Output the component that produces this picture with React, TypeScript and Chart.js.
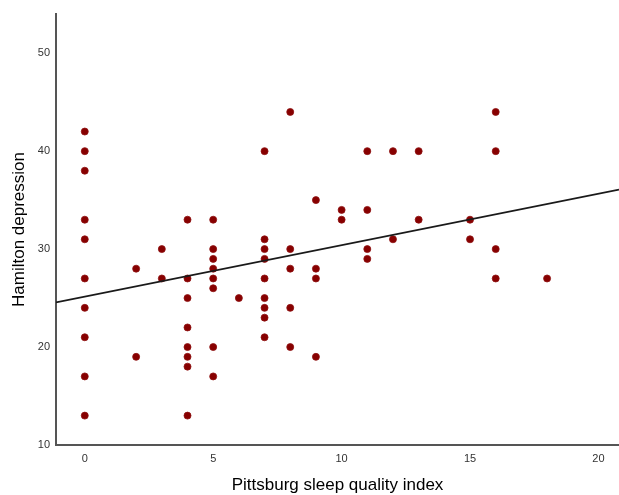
import React, { useEffect, useRef } from "react";
import { Chart, registerables } from "chart.js";

Chart.register(...registerables);

// Pittsburg sleep quality index (x) and Hamilton depression (y) pairs
const psqi: number[] = [
  0, 0, 0, 0, 0, 0, 0, 0, 0, 0,
  2, 2,
  3, 3,
  4, 4, 4, 4, 4, 4, 4, 4,
  5, 5, 5, 5, 5, 5, 5, 5,
  6,
  7, 7, 7, 7, 7, 7, 7, 7, 7,
  8, 8, 8, 8, 8,
  9, 9, 9, 9,
  10, 10,
  11, 11, 11, 11,
  12, 12,
  13, 13,
  15, 15,
  16, 16, 16, 16,
  18,
];
const hamilton: number[] = [
  42, 40, 38, 33, 31, 27, 24, 21, 17, 13,
  28, 19,
  30, 27,
  33, 27, 25, 22, 20, 19, 18, 13,
  33, 30, 29, 28, 27, 26, 20, 17,
  25,
  40, 31, 30, 29, 27, 25, 24, 23, 21,
  44, 30, 28, 24, 20,
  35, 28, 27, 19,
  34, 33,
  40, 34, 30, 29,
  40, 31,
  40, 33,
  33, 31,
  44, 40, 30, 27,
  27,
];

// Linear fit line
const fitIntercept = 25.15;
const fitSlope = 0.525;

const xMin = -1.12;
const xMax = 20.8;
const yMin = 10;
const yMax = 54;
const xTicks: number[] = [0, 5, 10, 15, 20];
const yTicks: number[] = [10, 20, 30, 40, 50];

const xTitle = "Pittsburg sleep quality index";
const yTitle = "Hamilton depression";

export default function App() {
  const ref = useRef<HTMLCanvasElement | null>(null);

  useEffect(() => {
    if (!ref.current) return;
    const points = psqi.map((x, i) => ({ x, y: hamilton[i] }));
    const fit = [xMin, xMax].map((x) => ({ x, y: fitIntercept + fitSlope * x }));
    const chart = new Chart(ref.current, {
      type: "scatter",
      data: {
        datasets: [
          {
            type: "line",
            data: fit,
            borderColor: "#1a1a1a",
            borderWidth: 1.6,
            pointRadius: 0,
            fill: false,
            order: 0,
          } as any,
          {
            data: points,
            backgroundColor: "#870000",
            borderColor: "#8e1010",
            borderWidth: 0.8,
            pointRadius: 3.5,
            order: 1,
          },
        ],
      },
      options: {
        responsive: false,
        animation: false,
        layout: { autoPadding: false, padding: { top: 14, right: 0, bottom: 0, left: 0 } },
        plugins: { legend: { display: false }, tooltip: { enabled: false } },
        scales: {
          x: {
            type: "linear",
            min: xMin,
            max: xMax,
            grid: { display: false, drawTicks: false },
            border: { display: true, color: "#555555", width: 2 },
            afterBuildTicks: (s: any) => {
              s.ticks = xTicks.map((v) => ({ value: v }));
            },
            afterFit: (s: any) => {
              s.height = 50;
              s.paddingLeft = 0;
              s.paddingRight = 0;
            },
            ticks: {
              padding: 7,
              color: "#333333",
              font: { family: "'Liberation Sans', Arial, sans-serif", size: 11 },
            },
            title: {
              display: true,
              text: xTitle,
              color: "#000000",
              font: { family: "'Liberation Sans', Arial, sans-serif", size: 17, lineHeight: 1 },
              padding: { top: 0, bottom: 1.5 },
            },
          },
          y: {
            type: "linear",
            min: yMin,
            max: yMax,
            grid: { display: false, drawTicks: false },
            border: { display: true, color: "#555555", width: 2 },
            afterBuildTicks: (s: any) => {
              s.ticks = yTicks.map((v) => ({ value: v }));
            },
            afterFit: (s: any) => {
              s.width = 56;
            },
            ticks: {
              padding: 6,
              color: "#333333",
              font: { family: "'Liberation Sans', Arial, sans-serif", size: 11 },
            },
            title: {
              display: true,
              text: yTitle,
              color: "#000000",
              font: { family: "'Liberation Sans', Arial, sans-serif", size: 17, lineHeight: 1 },
              padding: { top: 10.5, bottom: 0 },
            },
          },
        },
      },
    });
    return () => chart.destroy();
  }, []);

  return (
    <div style={{ position: "absolute", left: 0, top: 0, width: 619, height: 495, background: "#ffffff" }}>
      <canvas ref={ref} width={619} height={495} />
    </div>
  );
}
